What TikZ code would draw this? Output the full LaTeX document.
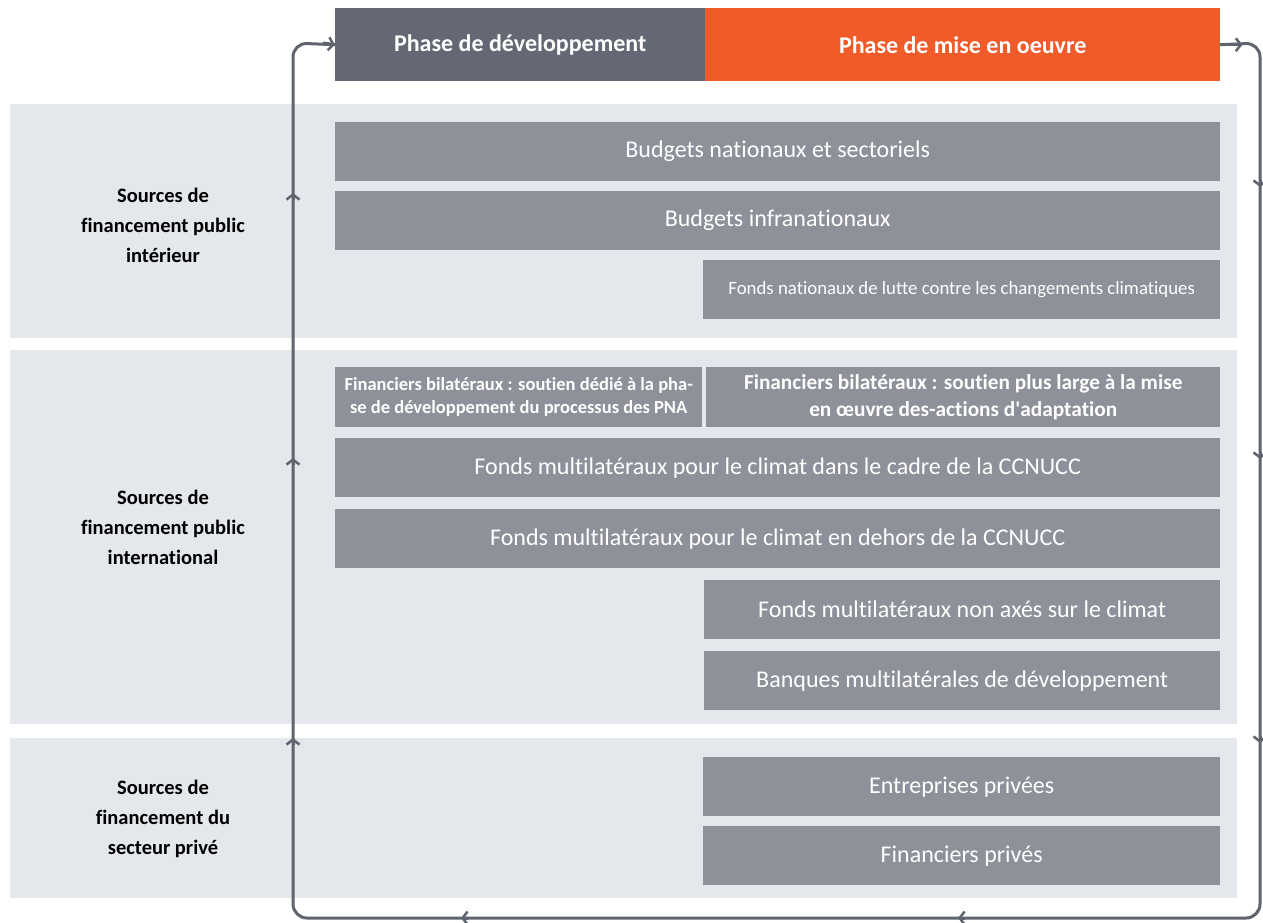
\documentclass[tikz,border=0pt]{standalone}
\usepackage{fontspec}
\setmainfont{Carlito}[Ligatures=NoCommon]
\newfontfamily\plainfont{Carlito}[Ligatures=NoCommon]
\usetikzlibrary{arrows.meta}
\definecolor{darkhead}{HTML}{646874}
\definecolor{orangehead}{HTML}{F15A29}
\definecolor{bandgray}{HTML}{E4E7EB}
\definecolor{cellgray}{HTML}{8E9199}
\definecolor{loopgray}{HTML}{60646E}
\tikzset{
  band/.style={fill=bandgray, draw=none},
  cell/.style={fill=cellgray, draw=none, anchor=north west, text=white, align=center, inner sep=0pt,
    font=\fontsize{24}{28}\selectfont},
  head/.style={anchor=north west, text=white, align=center, inner sep=0pt,
    font=\fontsize{24}{28}\selectfont\bfseries, minimum height=73pt},
  sidelabel/.style={align=center, font=\fontsize{20.5}{30}\selectfont\bfseries, text=black},
  loopline/.style={draw=loopgray, line width=3pt},
  chev/.style={loopgray, line width=3pt, -{Straight Barb[length=5pt,width=13pt,line width=2.5pt]}},
}
\begin{document}
\begin{tikzpicture}[x=1pt,y=-1pt]
\useasboundingbox (0,0) rectangle (1263,922);
\fill[white] (0,0) rectangle (1263,922);
% bands
\fill[band] (10,104) rectangle (1237,338);
\fill[band] (10,350) rectangle (1237,724);
\fill[band] (10,738) rectangle (1237,898);
% headers
\node[head, fill=darkhead, minimum width=370pt] (hdev) at (335,8) {Phase de développement};
\node[head, fill=orangehead, minimum width=515pt] (himp) at (705,8) {Phase de mise en oeuvre};
% loop
\coordinate (lt) at (293,43);
\coordinate (rt) at (1260,43);
\coordinate (lb) at (293,918);
\coordinate (rb) at (1260,918);
\draw[loopline, rounded corners=14pt] (himp.east) -- (rt) -- (rb) -- (lb) -- (lt) -- (hdev.west);
\draw[chev] (lt) ++(30,0) -- (hdev.west);
\draw[chev] (himp.east) -- ++(22,0);
% left up arrows
\draw[chev] (293,200) -- (293,193);
\draw[chev] (293,465) -- (293,458);
\draw[chev] (293,745) -- (293,738);
% right down arrows
\draw[chev] (1260,180) -- (1260,187);
\draw[chev] (1260,452) -- (1260,459);
\draw[chev] (1260,736) -- (1260,743);
% bottom left arrows
\draw[chev] (965,918) -- (958,918);
\draw[chev] (468,918) -- (461,918);
% side labels
\node[sidelabel] (l1) at (163,225) {Sources de\\financement public\\intérieur};
\node[sidelabel] (l2) at (163,527) {Sources de\\financement public\\international};
\node[sidelabel] (l3) at (163,819) {Sources de\\financement du\\secteur privé};
% band 1 cells
\node[cell, minimum width=885pt, minimum height=59pt] (c1) at (335,122) {Budgets nationaux et sectoriels};
\node[cell, minimum width=885pt, minimum height=59pt] (c2) at (335,191) {Budgets infranationaux};
\node[cell, minimum width=517pt, minimum height=59pt, font=\fontsize{18.8}{22}\selectfont] (c3) at (703,260) {Fonds nationaux de lutte contre les changements climatiques};
% band 2 cells
\node[cell, minimum width=367pt, minimum height=60pt, font=\fontsize{18.5}{22.5}\selectfont\bfseries] (c4) at (335,367) {Financiers bilatéraux : soutien dédié à la pha-\\se de développement du processus des PNA};
\node[cell, minimum width=514pt, minimum height=60pt, font=\fontsize{21.3}{27}\selectfont\bfseries] (c5) at (706,367) {Financiers bilatéraux : soutien plus large à la mise\\en œuvre des-actions d{\plainfont '}adaptation};
\node[cell, minimum width=885pt, minimum height=59pt] (c6) at (335,438) {Fonds multilatéraux pour le climat dans le cadre de la CCNUCC};
\node[cell, minimum width=885pt, minimum height=59pt] (c7) at (335,509) {Fonds multilatéraux pour le climat en dehors de la CCNUCC};
\node[cell, minimum width=516pt, minimum height=59pt] (c8) at (704,580) {Fonds multilatéraux non axés sur le climat};
\node[cell, minimum width=516pt, minimum height=59pt] (c9) at (704,651) {Banques multilatérales de développement};
% band 3 cells
\node[cell, minimum width=517pt, minimum height=59pt] (c10) at (703,757) {Entreprises privées};
\node[cell, minimum width=517pt, minimum height=59pt] (c11) at (703,826) {Financiers privés};
\end{tikzpicture}
\end{document}
